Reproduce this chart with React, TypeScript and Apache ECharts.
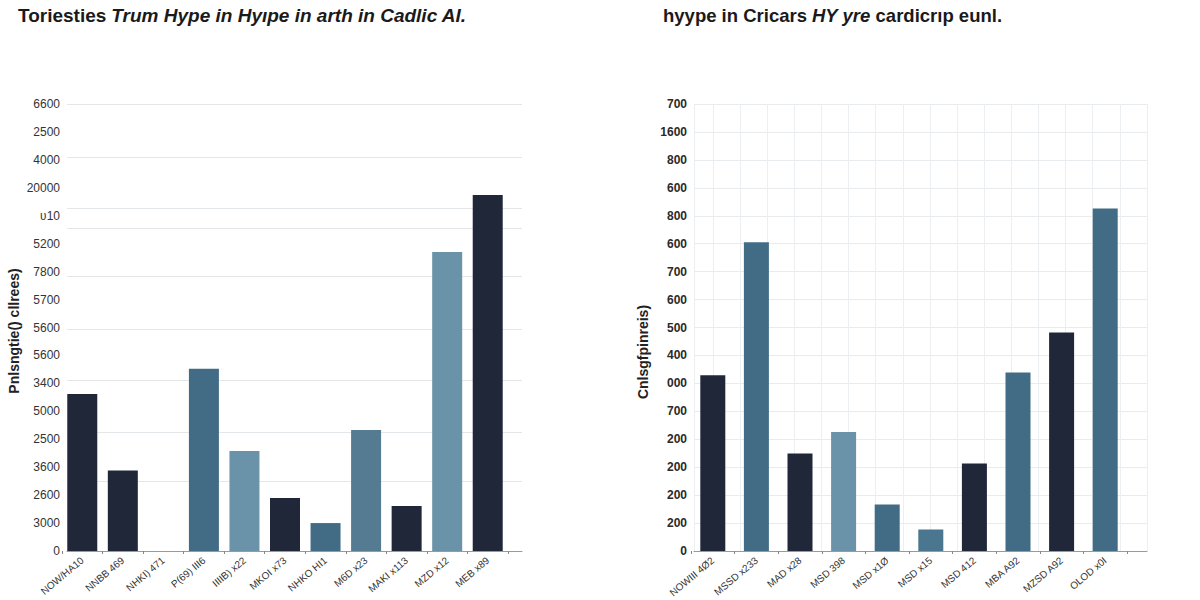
import React, { useEffect, useRef } from "react";
import * as echarts from "echarts";

const leftCategories = ["NOW/HA10", "NNBB 469", "NHKI) 471", "P(69) III6", "IIIIB) x22", "MKOI x73", "NHKO HI1", "M6D x23", "MAKI x113", "MZD x12", "MEB x89"];
const leftValues = [5.62, 2.88, 0, 6.52, 3.58, 1.9, 1.0, 4.33, 1.61, 10.7, 12.74];
const leftTickLabels = ["0", "3000", "2600", "3600", "2500", "5000", "3400", "5600", "5600", "5700", "7800", "5200", "ʋ10", "20000", "4000", "2500", "6600"];
const leftGridLevels = [2.48, 4.25, 6.1, 7.95, 9.84, 11.55, 12.27, 14.08, 16];

const rightCategories = ["NOWIII 4Ø2", "MSSD x233", "MAD x28", "MSD 398", "MSD x1Ø", "MSD x15", "MSD 412", "MBA A92", "MZSD A92", "OLOD x0I"];
const rightValues = [6.29, 11.05, 3.49, 4.26, 1.66, 0.77, 3.13, 6.39, 7.82, 12.26];
const rightTickLabels = ["0", "200", "200", "200", "200", "700", "000", "400", "500", "600", "700", "600", "800", "600", "800", "1600", "700"];

const leftTitle = ["Toriesties", "Trum Hype in Hyıpe in arth in Cadlic AI."];
const rightTitle = ["hyype in Cricars", "HY yre", "cardicrıp eunl."];
const leftAxisName = "Pnlsngtie() cllrees)";
const rightAxisName = "Cnlsgfpinreis)";

const DARK = "#1f2739";
const STEEL = "#426c86";
const LIGHT = "#6a93aa";
const MID = "#557b92";
const STEEL2 = "#4a7690";
const leftColors = [DARK, DARK, DARK, STEEL, LIGHT, DARK, STEEL, MID, DARK, LIGHT, DARK];
const rightColors = [DARK, STEEL, DARK, LIGHT, STEEL, STEEL2, DARK, STEEL, DARK, STEEL];

const FONT = "'Liberation Sans', Arial, sans-serif";

export default function App() {
  const ref = useRef<HTMLDivElement>(null);
  useEffect(() => {
    document.body.style.margin = "0";
    if (!ref.current) return;
    const chart = echarts.init(ref.current, null, { renderer: "svg" });
    const top = 104;
    const height = 447;
    const catLabel = {
      rotate: 40,
      fontSize: 10,
      color: "#333",
      margin: 8,
      interval: 0,
    };
    const titleRich = (size: number) => ({
      a: { fontSize: size, fontWeight: "bold", color: "#1a1a1a", fontFamily: FONT },
      b: { fontSize: size, fontWeight: "bold", fontStyle: "italic", color: "#1a1a1a", fontFamily: FONT },
    });
    const option: any = {
      animation: false,
      textStyle: { fontFamily: FONT },
      title: [
        {
          left: 18,
          top: 6,
          padding: 0,
          text: `{a|${leftTitle[0]}} {b|${leftTitle[1]}}`,
          textStyle: { rich: titleRich(19) },
        },
        {
          left: 663,
          top: 6,
          padding: 0,
          text: `{a|${rightTitle[0]}} {b|${rightTitle[1]}} {a|${rightTitle[2]}}`,
          textStyle: { rich: titleRich(18.5) },
        },
      ],
      graphic: [
        {
          type: "text",
          x: 14,
          y: 331,
          rotation: Math.PI / 2,
          style: {
            text: leftAxisName,
            fontSize: 14,
            fontWeight: "bold",
            fill: "#222",
            fontFamily: FONT,
            align: "center",
            verticalAlign: "middle",
          },
        },
        {
          type: "text",
          x: 643,
          y: 352,
          rotation: Math.PI / 2,
          style: {
            text: rightAxisName,
            fontSize: 14,
            fontWeight: "bold",
            fill: "#222",
            fontFamily: FONT,
            align: "center",
            verticalAlign: "middle",
          },
        },
      ],
      grid: [
        { left: 67, top, width: 455, height },
        { left: 62, top, width: 446, height },
        { left: 694, top, width: 453, height },
        { left: 691, top, width: 436, height },
      ],
      xAxis: [
        {
          gridIndex: 0,
          type: "value",
          min: 0,
          max: 1,
          axisLine: { show: true, lineStyle: { color: "#9a9a9a" } },
          axisTick: { show: false },
          axisLabel: { show: false },
          splitLine: { show: false },
        },
        {
          gridIndex: 1,
          type: "category",
          data: leftCategories,
          axisLine: { show: false },
          axisTick: { show: true, length: 3, lineStyle: { color: "#888" } },
          axisLabel: catLabel,
        },
        {
          gridIndex: 2,
          type: "value",
          inverse: true,
          min: 0,
          max: 16.7,
          interval: 1,
          axisLine: { show: true, lineStyle: { color: "#9a9a9a" } },
          axisTick: { show: false },
          axisLabel: { show: false },
          splitLine: { show: true, lineStyle: { color: "#eceff2" } },
        },
        {
          gridIndex: 3,
          type: "category",
          data: rightCategories,
          axisLine: { show: false },
          axisTick: { show: true, length: 3, lineStyle: { color: "#888" } },
          axisLabel: catLabel,
        },
      ],
      yAxis: [
        {
          gridIndex: 0,
          type: "value",
          min: 0,
          max: 16,
          interval: 1,
          axisLine: { show: false },
          axisTick: { show: false },
          splitLine: { show: false },
          axisLabel: {
            margin: 7,
            fontSize: 12,
            color: "#333",
            formatter: (v: number) => leftTickLabels[Math.round(v)] ?? "",
          },
        },
        { gridIndex: 1, type: "value", min: 0, max: 16, show: false },
        {
          gridIndex: 2,
          type: "value",
          min: 0,
          max: 16,
          interval: 1,
          axisLine: { show: false },
          axisTick: { show: false },
          splitLine: { show: true, lineStyle: { color: "#e9ecef" } },
          axisLabel: {
            margin: 7,
            fontSize: 12,
            fontWeight: 600,
            color: "#2a2a2a",
            formatter: (v: number) => rightTickLabels[Math.round(v)] ?? "",
          },
        },
        { gridIndex: 3, type: "value", min: 0, max: 16, show: false },
      ],
      series: [
        {
          type: "scatter",
          xAxisIndex: 0,
          yAxisIndex: 0,
          data: [[0, 0]],
          symbolSize: 0,
          silent: true,
          z: 0,
          markLine: {
            z: 0,
            silent: true,
            symbol: "none",
            label: { show: false },
            lineStyle: { color: "#e4e7ea", type: "solid", width: 1 },
            data: leftGridLevels.map((v) => ({ yAxis: v })),
          },
        },
        {
          type: "bar",
          xAxisIndex: 1,
          yAxisIndex: 1,
          data: leftValues,
          barWidth: 30,
          z: 3,
          itemStyle: { color: (p: any) => leftColors[p.dataIndex] },
        },
        {
          type: "bar",
          xAxisIndex: 3,
          yAxisIndex: 3,
          data: rightValues,
          barWidth: 25,
          z: 3,
          itemStyle: { color: (p: any) => rightColors[p.dataIndex] },
        },
      ],
    };
    chart.setOption(option);
    return () => chart.dispose();
  }, []);
  return <div ref={ref} style={{ width: 1200, height: 600 }} />;
}
